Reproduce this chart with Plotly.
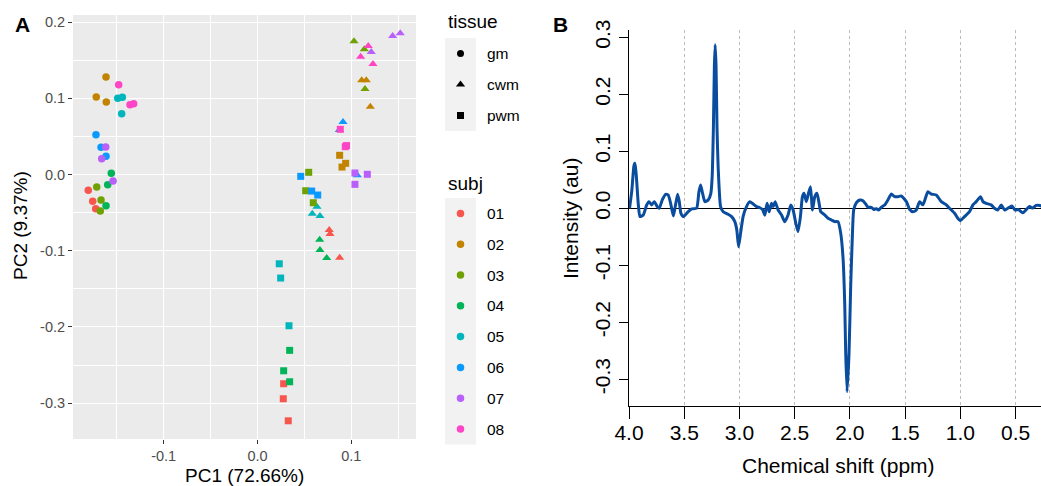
import plotly.graph_objects as go

W, H = 1041, 486
FONT = "Liberation Sans"

# ---------------- Panel A data (PCA scores) ----------------
pc1 = [-0.1804, -0.1757, -0.1725,  -0.1615, -0.1719, -0.1612,  -0.1714, -0.1668, -0.1676,
       -0.1559, -0.1597, -0.1615,  -0.1490, -0.1441, -0.1448,  -0.1722, -0.1668, -0.1615,
       -0.1618, -0.1661, -0.1540,  -0.1480, -0.1359, -0.1320,
       0.0765, 0.0773, 0.0876,  0.1111, 0.1160, 0.1203,  0.1029, 0.1139, 0.1146,
       0.0663, 0.0666, 0.0738,  0.0634, 0.0584, 0.0666,  0.0912, 0.0872, 0.1064,
       0.1441, 0.1522, 0.1213,  0.1181, 0.1100, 0.1231,
       0.0279, 0.0275, 0.0328,  0.0876, 0.0940, 0.0901,  0.0546, 0.0514, 0.0595,
       0.0343, 0.0279, 0.0343,  0.0232, 0.0247, 0.0336,  0.0461, 0.0578, 0.0642,
       0.1039, 0.1171, 0.1039,  0.0883, 0.0936, 0.0949]
pc2 = [-0.0207, -0.0352, -0.0449,  0.1280, 0.1017, 0.0951,  -0.0164, -0.0335, -0.0479,
       0.0016, -0.0134, -0.0409,  0.1000, 0.1013, 0.0798,  0.0522, 0.0357, 0.0239,
       0.0361, 0.0207, -0.0085,  0.1178, 0.0916, 0.0929,
       -0.0728, -0.0781, -0.1092,  0.1236, 0.1236, 0.0890,  0.1748, 0.1643, 0.1122,
       -0.0856, -0.0991, -0.1096,  -0.0423, -0.0514, -0.0545,  0.0689, 0.0584, -0.0010,
       0.1818, 0.1853, 0.1608,  0.1686, 0.1546, 0.1450,
       -0.2745, -0.2942, -0.3231,  0.0252, 0.0147, 0.0098,  0.0029, -0.0213, -0.0370,
       -0.2307, -0.2575, -0.2719,  -0.1171, -0.1358, -0.1984,  -0.0024, -0.0217, -0.0269,
       0.0020, 0.0003, -0.0129,  0.0593, 0.0365, 0.0380]
tissue = ["gm"] * 24 + ["cwm"] * 24 + ["pwm"] * 24
subj = ([s for s in ["01", "02", "03", "04", "05", "06", "07", "08"] for _ in range(3)]) * 3

tissue_levels = ["gm", "cwm", "pwm"]
subj_levels = ["01", "02", "03", "04", "05", "06", "07", "08"]
subj_colors = ["#F6564C", "#C28400", "#6FA200", "#00B457",
               "#00B5BC", "#0A99FF", "#B95FFA", "#FF45C6"]
tissue_symbols = {"gm": "circle", "cwm": "triangle-up", "pwm": "square"}
tissue_sizes = {"gm": 7.5, "cwm": 8, "pwm": 7}

pca_xticks = [-0.1, 0.0, 0.1]
pca_xticklabels = ["-0.1", "0.0", "0.1"]
pca_yticks = [-0.3, -0.2, -0.1, 0.0, 0.1, 0.2]
pca_yticklabels = ["-0.3", "-0.2", "-0.1", "0.0", "0.1", "0.2"]

# ---------------- Panel B data (spectrum) ----------------
ppm = [3.995, 3.975, 3.955, 3.946, 3.935, 3.915, 3.901, 3.871, 3.840, 3.819, 3.795, 3.771,
       3.744, 3.726, 3.699, 3.668, 3.645, 3.623, 3.599, 3.584, 3.560, 3.545, 3.530, 3.509,
       3.464, 3.433, 3.388, 3.367, 3.352, 3.337, 3.313, 3.283, 3.259, 3.247, 3.236, 3.227,
       3.220, 3.212, 3.203, 3.193, 3.171, 3.147, 3.108, 3.071, 3.042, 3.024, 3.008, 2.990,
       2.967, 2.936, 2.906, 2.876, 2.845, 2.816, 2.791, 2.770, 2.750, 2.731, 2.710, 2.695,
       2.677, 2.650, 2.619, 2.590, 2.560, 2.535, 2.514, 2.490, 2.470, 2.448, 2.430, 2.415,
       2.394, 2.375, 2.357, 2.339, 2.318, 2.298, 2.279, 2.264, 2.228, 2.198, 2.167, 2.137,
       2.108, 2.083, 2.062, 2.047, 2.038, 2.026, 2.008, 1.993, 1.977, 1.966, 1.941, 1.911,
       1.882, 1.857, 1.836, 1.806, 1.785, 1.760, 1.740, 1.715, 1.685, 1.656, 1.625, 1.595,
       1.565, 1.534, 1.489, 1.459, 1.429, 1.399, 1.369, 1.339, 1.294, 1.263, 1.218, 1.173,
       1.127, 1.098, 1.052, 1.023, 1.001, 0.962, 0.917, 0.887, 0.856, 0.817, 0.796, 0.766,
       0.721, 0.691, 0.661, 0.630, 0.600, 0.571, 0.534, 0.504, 0.474, 0.435, 0.404, 0.374,
       0.344, 0.314, 0.281, 0.250]
intensity = [0.000, 0.030, 0.075, 0.079, 0.060, 0.005, -0.0146, -0.0118, 0.0058, 0.0117, 0.006, 0.0117,
             0.003, 0.000, 0.0146, 0.0246, 0.0234, 0.0088, -0.0135, 0.000, 0.0246, 0.0117, -0.0088, -0.0146,
             -0.006, -0.0012, 0.000, 0.029, 0.041, 0.029, 0.0117, 0.0146, 0.0263, 0.0555, 0.140, 0.250,
             0.287, 0.250, 0.140, 0.073, 0.003, -0.006, -0.010, -0.0146, -0.0234, -0.038, -0.0673, -0.044,
             -0.0146, 0.003, 0.0117, 0.0075, 0.003, 0.001, -0.002, -0.012, 0.0088, -0.006, 0.0088, 0.003,
             0.0117, -0.003, -0.0117, -0.0234, -0.0117, 0.0058, -0.003, -0.0263, -0.041, -0.0146, 0.0204, 0.0263,
             0.0117, 0.0263, 0.038, -0.003, 0.0204, 0.0263, 0.0088, -0.006, -0.0117, -0.0175, -0.0205, -0.0234,
             -0.0234, -0.044, -0.088, -0.167, -0.254, -0.3217, -0.254, -0.1375, -0.044, -0.003, 0.010, 0.0146,
             0.0134, 0.0075, 0.0018, 0.0018, -0.002, -0.0006, -0.003, 0.002, 0.0058, 0.0146, 0.025, 0.0204,
             0.0204, 0.0216, 0.0117, -0.002, -0.006, -0.003, 0.0117, 0.006, 0.029, 0.025, 0.0234, 0.0117,
             0.006, 0.000, -0.0088, -0.0175, -0.0217, -0.0146, -0.006, 0.0058, 0.0117, 0.0204, 0.0117, 0.0088,
             0.006, 0.000, -0.003, 0.006, -0.003, 0.000, 0.004, -0.003, -0.0023, -0.008, -0.0023, 0.003,
             0.0005, 0.005, 0.005, 0.003]

nmr_xticks = [4.0, 3.5, 3.0, 2.5, 2.0, 1.5, 1.0, 0.5]
nmr_xticklabels = ["4.0", "3.5", "3.0", "2.5", "2.0", "1.5", "1.0", "0.5"]
nmr_yticks = [-0.3, -0.2, -0.1, 0.0, 0.1, 0.2, 0.3]
nmr_yticklabels = ["-0.3", "-0.2", "-0.1", "0.0", "0.1", "0.2", "0.3"]


def px(x):
    return x / W


def py(y):
    return 1 - y / H


fig = go.Figure()

# Panel A scatter
cmap = dict(zip(subj_levels, subj_colors))
fig.add_trace(go.Scatter(
    x=pc1, y=pc2, mode="markers", xaxis="x", yaxis="y", showlegend=False,
    marker=dict(color=[cmap[s] for s in subj],
                symbol=[tissue_symbols[t] for t in tissue],
                size=[tissue_sizes[t] for t in tissue],
                opacity=1, line=dict(width=0)),
))

# Panel B spectrum
fig.add_trace(go.Scatter(
    x=ppm, y=intensity, mode="lines", xaxis="x2", yaxis="y2", showlegend=False,
    line=dict(color="#0A4C9E", width=3, shape="spline", smoothing=0.5),
))

# Manual legends (in a pixel-coordinate helper axis)
LX0, LX1 = 420, 545
key_x0, key_x1 = 445, 476
key_cx = (key_x0 + key_x1) / 2
label_x = 485
t_top, t_step = 38, 31
s_top, s_step = 198, 30.8

fig.add_trace(go.Scatter(
    x=[key_cx] * len(tissue_levels),
    y=[t_top + t_step * (i + 0.5) for i in range(len(tissue_levels))],
    mode="markers", xaxis="x3", yaxis="y3", showlegend=False,
    marker=dict(color="black", symbol=[tissue_symbols[t] for t in tissue_levels],
                size=[7, 8, 7], opacity=1, line=dict(width=0)),
))
fig.add_trace(go.Scatter(
    x=[key_cx] * len(subj_levels),
    y=[s_top + s_step * (i + 0.5) for i in range(len(subj_levels))],
    mode="markers", xaxis="x3", yaxis="y3", showlegend=False,
    marker=dict(color=subj_colors, symbol="circle", size=7.5, opacity=1, line=dict(width=0)),
))

shapes = [
    dict(type="rect", xref="x domain", yref="y domain", x0=0, x1=1, y0=0, y1=1,
         fillcolor="#EBEBEB", line=dict(width=0), layer="below"),
    dict(type="rect", xref="x3", yref="y3", x0=key_x0, x1=key_x1,
         y0=t_top, y1=t_top + t_step * len(tissue_levels),
         fillcolor="#F2F2F2", line=dict(width=0), layer="below"),
    dict(type="rect", xref="x3", yref="y3", x0=key_x0, x1=key_x1,
         y0=s_top, y1=s_top + s_step * len(subj_levels),
         fillcolor="#F2F2F2", line=dict(width=0), layer="below"),
]

annotations = []


def ann(text, x, y, size, xanchor="center", yanchor="middle", angle=0, color="black",
        xref="paper", yref="paper", bold=False):
    if bold:
        text = "<b>" + text + "</b>"
    annotations.append(dict(text=text, x=x, y=y, xref=xref, yref=yref, showarrow=False,
                            xanchor=xanchor, yanchor=yanchor, textangle=angle,
                            font=dict(family=FONT, size=size, color=color)))


ann("tissue", 446, 21, 19, xanchor="left", xref="x3", yref="y3")
for i, t in enumerate(tissue_levels):
    ann(t, label_x, t_top + t_step * (i + 0.5), 15.5, xanchor="left", xref="x3", yref="y3")
ann("subj", 446, 183, 19, xanchor="left", xref="x3", yref="y3")
for i, s in enumerate(subj_levels):
    ann(s, label_x, s_top + s_step * (i + 0.5), 15.5, xanchor="left", xref="x3", yref="y3")

# Axis titles and panel labels
ann("PC1 (72.66%)", px(244), py(475), 19)
ann("PC2 (9.37%)", px(20), py(226), 19, angle=-90)
ann("Intensity (au)", px(570), py(219), 21, angle=-90)
ann("Chemical shift (ppm)", px(838), py(465), 21)
ann("A", px(13), py(24), 21, xanchor="left", bold=True)
ann("B", px(551), py(24), 21, xanchor="left", bold=True)

tickfontA = dict(family=FONT, size=14.5, color="#4D4D4D")
tickfontB = dict(family=FONT, size=21, color="black")

fig.update_layout(
    width=W, height=H, margin=dict(l=0, r=0, t=0, b=0, autoexpand=False),
    paper_bgcolor="white", plot_bgcolor="rgba(0,0,0,0)",
    font=dict(family=FONT),
    showlegend=False,
    shapes=shapes, annotations=annotations,
    xaxis=dict(domain=[px(73), px(416)], range=[-0.1967, 0.169],
               tickvals=pca_xticks, ticktext=pca_xticklabels, tickfont=tickfontA,
               ticks="outside", ticklen=4, tickwidth=1, tickcolor="#333333",
               showgrid=True, gridcolor="white", gridwidth=1.4, zeroline=False, showline=False,
               minor=dict(dtick=0.05, tick0=0, showgrid=True, gridcolor="white", gridwidth=0.7, ticks=""),
               anchor="y", automargin=False),
    yaxis=dict(domain=[py(439), py(15)], range=[-0.347, 0.2093],
               tickvals=pca_yticks, ticktext=pca_yticklabels, tickfont=tickfontA,
               ticks="outside", ticklen=4, tickwidth=1, tickcolor="#333333",
               showgrid=True, gridcolor="white", gridwidth=1.4, zeroline=False, showline=False,
               minor=dict(dtick=0.05, tick0=0, showgrid=True, gridcolor="white", gridwidth=0.7, ticks=""),
               anchor="x", automargin=False),
    xaxis2=dict(domain=[px(629), 1.0], range=[4.0, 0.27],
                tickvals=nmr_xticks, ticktext=nmr_xticklabels, tickfont=tickfontB,
                ticks="outside", ticklen=12, tickwidth=1.3, tickcolor="black",
                ticklabelstandoff=-4,
                showline=True, linecolor="black", linewidth=1.3,
                showgrid=True, gridcolor="#BBBBBB", gridwidth=1, griddash="dot",
                zeroline=False, anchor="y2", automargin=False),
    yaxis2=dict(domain=[py(405.7), py(30)], range=[-0.3463, 0.3128],
                tickvals=nmr_yticks, ticktext=nmr_yticklabels, tickfont=tickfontB,
                tickangle=-90,
                ticks="outside", ticklen=9, tickwidth=1.3, tickcolor="black",
                showline=True, linecolor="black", linewidth=1.3,
                showgrid=False, zeroline=True, zerolinecolor="black", zerolinewidth=1,
                anchor="x2", automargin=False),
    xaxis3=dict(domain=[px(LX0), px(LX1)], range=[LX0, LX1], visible=False, anchor="y3",
                automargin=False),
    yaxis3=dict(domain=[0, 1], range=[H, 0], visible=False, anchor="x3", automargin=False),
)

fig.write_html("out.html")
